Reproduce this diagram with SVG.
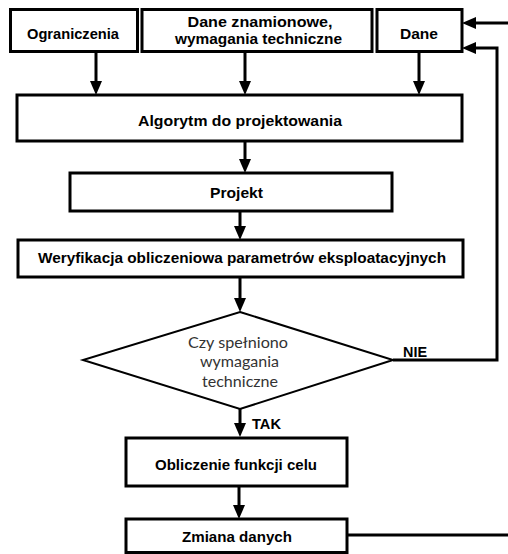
<svg xmlns="http://www.w3.org/2000/svg" width="508" height="554" viewBox="0 0 508 554">
<style>
.box{fill:#fff;stroke:#000;stroke-width:3}
.dia{fill:#fff;stroke:#000;stroke-width:2}
.t{font-family:"Liberation Sans",Arial,sans-serif;font-weight:bold;font-size:15px;fill:#000;text-anchor:middle}
.d{font-family:Lato,"Liberation Sans",sans-serif;font-size:16px;fill:#333;text-anchor:middle}
.c{fill:none;stroke:#000;stroke-width:3}
</style>
<defs>
<marker id="ah" markerUnits="userSpaceOnUse" markerWidth="14" markerHeight="12" refX="6" refY="6" orient="auto" viewBox="0 0 14 12">
<path d="M0,0 L14,6 L0,12 z" fill="#000"/>
</marker>
</defs>
<rect width="508" height="554" fill="#fff"/>
<g id="connectors">
<line class="c" x1="96" y1="51" x2="96" y2="87" marker-end="url(#ah)"/>
<line class="c" x1="245" y1="51" x2="245" y2="87" marker-end="url(#ah)"/>
<line class="c" x1="419" y1="52" x2="419" y2="87" marker-end="url(#ah)"/>
<line class="c" x1="245" y1="141" x2="245" y2="165" marker-end="url(#ah)"/>
<line class="c" x1="240" y1="211" x2="240" y2="232" marker-end="url(#ah)"/>
<line class="c" x1="240" y1="277" x2="240" y2="304" marker-end="url(#ah)"/>
<line class="c" x1="240" y1="409" x2="240" y2="429" marker-end="url(#ah)"/>
<line class="c" x1="239" y1="486" x2="239" y2="511" marker-end="url(#ah)"/>
<polyline class="c" points="393,360 497,360 497,48 470,48" marker-end="url(#ah)"/>
<line class="c" x1="508" y1="23" x2="470" y2="23" marker-end="url(#ah)"/>
<line class="c" x1="347" y1="535" x2="508" y2="535"/>
<text class="t" x="415" y="357" textLength="24" lengthAdjust="spacingAndGlyphs">NIE</text>
<text class="t" x="266.5" y="429" textLength="29" lengthAdjust="spacingAndGlyphs">TAK</text>
</g>
<g id="ograniczenia">
<rect class="box" x="10.5" y="9.5" width="127" height="42"/>
<text class="t" x="73" y="39" textLength="92" lengthAdjust="spacingAndGlyphs">Ograniczenia</text>
</g>
<g id="dane-znamionowe">
<rect class="box" x="142" y="9.5" width="230" height="42"/>
<text class="t" x="260" y="27" textLength="145" lengthAdjust="spacingAndGlyphs">Dane znamionowe,</text>
<text class="t" x="258.5" y="44" textLength="167" lengthAdjust="spacingAndGlyphs">wymagania techniczne</text>
</g>
<g id="dane">
<rect class="box" x="377" y="9.5" width="85" height="42"/>
<text class="t" x="419" y="39" textLength="38" lengthAdjust="spacingAndGlyphs">Dane</text>
</g>
<g id="algorytm">
<rect class="box" x="17" y="95" width="445" height="46"/>
<text class="t" x="240" y="126" textLength="204" lengthAdjust="spacingAndGlyphs">Algorytm do projektowania</text>
</g>
<g id="projekt">
<rect class="box" x="70" y="173" width="322" height="38"/>
<text class="t" x="236.5" y="198" textLength="53" lengthAdjust="spacingAndGlyphs">Projekt</text>
</g>
<g id="weryfikacja">
<rect class="box" x="18" y="240" width="445" height="37"/>
<text class="t" x="242" y="263" textLength="408" lengthAdjust="spacingAndGlyphs">Weryfikacja obliczeniowa parametrów eksploatacyjnych</text>
</g>
<g id="decyzja">
<polygon class="dia" points="240,312 393,360 240,409 83,360"/>
<text class="d" x="238" y="348" textLength="100" lengthAdjust="spacingAndGlyphs">Czy spełniono</text>
<text class="d" x="239.5" y="367" textLength="79" lengthAdjust="spacingAndGlyphs">wymagania</text>
<text class="d" x="240" y="387" textLength="76" lengthAdjust="spacingAndGlyphs">techniczne</text>
</g>
<g id="obliczenie">
<rect class="box" x="126" y="438" width="221" height="48"/>
<text class="t" x="236" y="470" textLength="162" lengthAdjust="spacingAndGlyphs">Obliczenie funkcji celu</text>
</g>
<g id="zmiana">
<rect class="box" x="126" y="519" width="221" height="33.5"/>
<text class="t" x="237" y="542" textLength="110" lengthAdjust="spacingAndGlyphs">Zmiana danych</text>
</g>
</svg>
